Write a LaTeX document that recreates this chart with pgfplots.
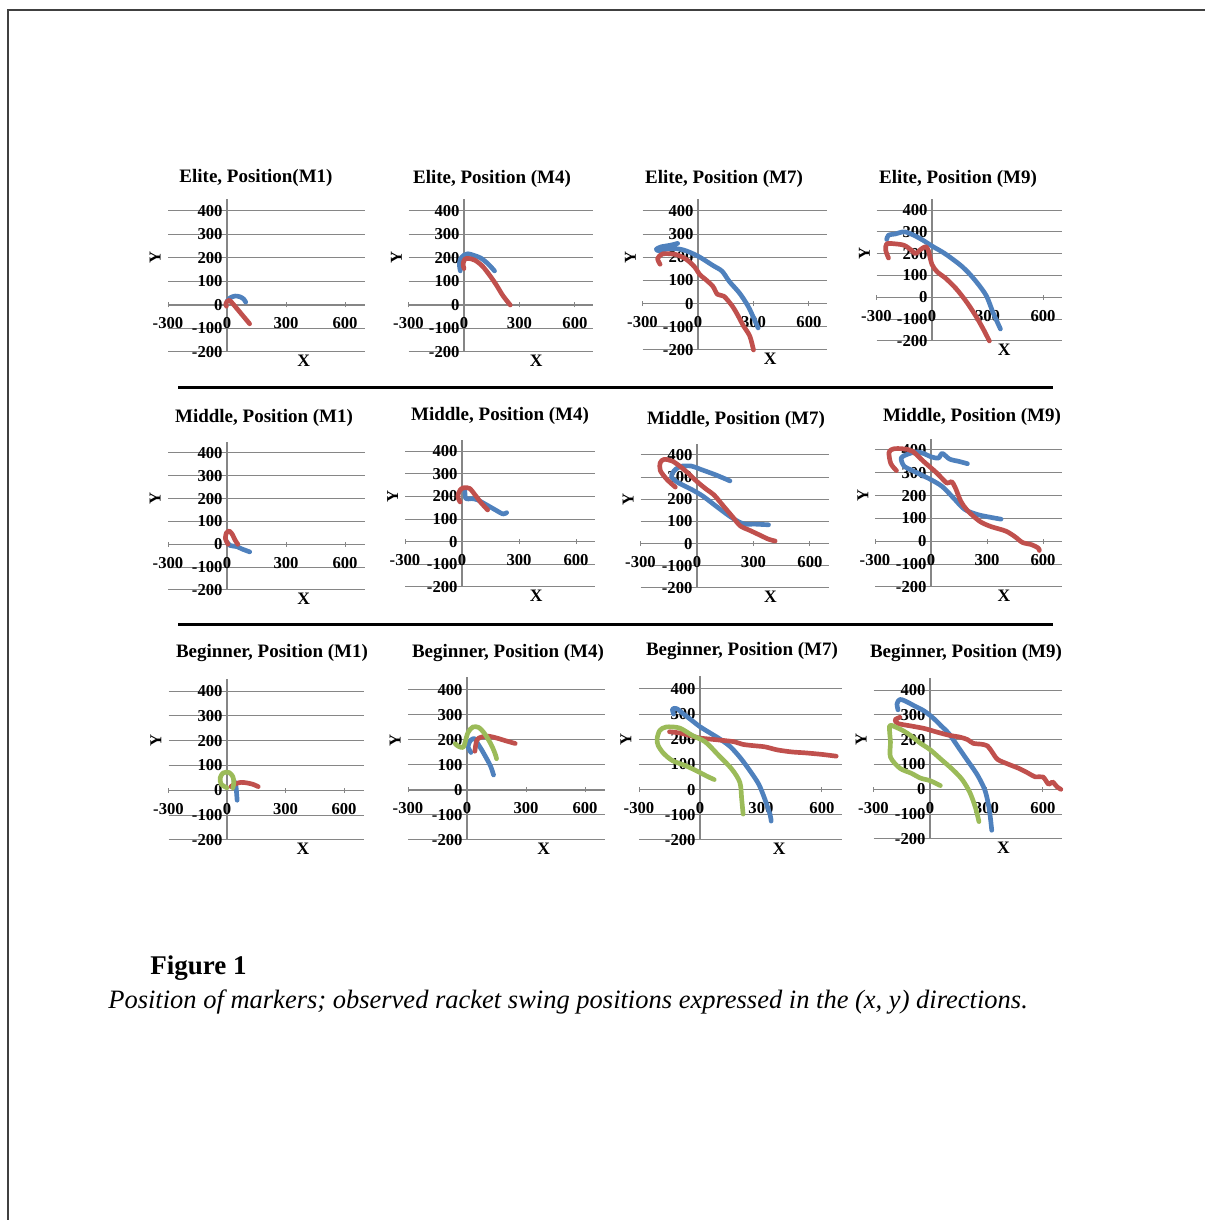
\documentclass[border=0pt]{standalone}
\usepackage{fontspec}
\setmainfont{Liberation Serif}
\usepackage{pgfplots}
\pgfplotsset{compat=1.18}
\definecolor{sblue}{RGB}{79,129,189}
\definecolor{sred}{RGB}{192,80,77}
\definecolor{sgreen}{RGB}{155,187,89}
\definecolor{gridgray}{RGB}{134,134,134}
\pgfplotsset{
 panel/.style={
  scale only axis,
  axis lines=middle,
  axis line style={-, draw=gridgray, line width=0.7pt},
  xmin=-300, xmax=700, ymin=-200, ymax=450,
  xtick={-300,0,300,600},
  ytick={-200,-100,0,100,200,300,400},
  ymajorgrids,
  grid style={draw=gridgray, line width=0.6pt},
  hide obscured x ticks=false, hide obscured y ticks=false,
  tick style={draw=gridgray, line width=0.6pt},
  major tick length=3pt,
  /pgf/number format/assume math mode=true,
  ticklabel style={font=\bfseries\fontsize{10}{10}\selectfont, inner sep=1pt},
  xticklabel style={yshift=-5pt},
  clip=false,
  every axis plot/.append style={line width=2.8pt, line join=round, line cap=round, no markers, smooth, tension=0.5},
 },
}
% #1 left px, #2 bottom px, #3 width px, #4 height px, #5 title, #6 title centre x px, #7 title centre y px, #8 plots
\newcommand\panel[8]{%
 \pgfmathsetlengthmacro\pl{#1*0.6pt}%
 \pgfmathsetlengthmacro\pb{(1220-#2)*0.6pt}%
 \pgfmathsetlengthmacro\pw{#3*0.6pt}%
 \pgfmathsetlengthmacro\ph{#4*0.6pt}%
 \begin{axis}[panel, at={(\pl,\pb)}, anchor=south west, width=\pw, height=\ph]
 #8
 \node[rotate=90, anchor=center, font=\bfseries\fontsize{10}{10}\selectfont, inner sep=0pt] at (axis cs:-365,200) {Y};
 \node[yshift=-5.4pt, anchor=center, font=\bfseries\fontsize{10.5}{10}\selectfont, inner sep=0pt] at (rel axis cs:0.69,0) {X};
 \end{axis}
 \node[anchor=center, font=\bfseries\fontsize{11.4}{12}\selectfont, inner sep=0pt] at (#6,{1220-#7-2.5}) {#5};}
\begin{document}
\begin{tikzpicture}[x=0.6pt,y=0.6pt]
\path[use as bounding box] (0,0) rectangle (1205,1220);
\draw[line width=0.9pt, black!75] (8,0) -- (8,1210) -- (1205,1210);
% ---------- Elite ----------
\panel{168}{352}{196.7}{152.75}{Elite, Position(M1)}{256}{175}{
 \addplot[sblue] coordinates {(0,15) (15,30) (40,38) (65,35) (85,25) (95,12)};
 \addplot[sred] coordinates {(-3,-5) (-6,5) (0,15) (12,20) (30,5) (50,-15) (75,-40) (100,-65) (115,-80)};
}
\panel{408.5}{352}{185}{152.75}{Elite, Position (M4)}{492}{176}{
 \addplot[sblue] coordinates {(-20,145) (-25,170) (-20,195) (0,212) (20,218) (50,212) (90,200) (130,175) (165,145)};
 \addplot[sred] coordinates {(0,155) (-5,175) (5,195) (25,198) (60,190) (100,165) (140,125) (175,85) (210,40) (250,0)};
}
\panel{642.5}{350}{185}{150.6}{Elite, Position (M7)}{724}{176}{
 \addplot[sblue] coordinates {(-110,260) (-150,252) (-200,245) (-225,235) (-210,228) (-150,238) (-80,232) (0,205) (80,165) (130,140) (170,95) (225,45) (270,-10) (300,-60) (325,-105)};
 \addplot[sred] coordinates {(-205,170) (-218,195) (-190,215) (-120,212) (-65,192) (-20,160) (10,125) (40,105) (80,75) (105,40) (140,32) (185,-10) (215,-50) (245,-95) (280,-140) (300,-200)};
}
\panel{876.5}{341}{185}{141.9}{Elite, Position (M9)}{958}{176}{
 \addplot[sblue] coordinates {(-245,265) (-235,285) (-200,290) (-150,300) (-100,285) (-50,262) (0,235) (70,200) (150,150) (200,110) (250,60) (295,5) (330,-70) (370,-145)};
 \addplot[sred] coordinates {(-235,180) (-250,215) (-245,245) (-200,245) (-150,238) (-110,215) (-90,200) (-60,220) (-35,232) (-20,215) (0,150) (30,115) (70,90) (130,40) (190,-25) (240,-90) (280,-150) (310,-200)};
}
% ---------- Middle ----------
\panel{168}{590}{196.7}{148.4}{Middle, Position (M1)}{264}{415}{
 \addplot[sblue] coordinates {(0,10) (15,-5) (50,-10) (75,-20) (115,-33)};
 \addplot[sred] coordinates {(5,0) (-8,25) (-3,50) (12,58) (28,42) (40,20) (55,0)};
}
\panel{405}{587}{190}{147.3}{Middle, Position (M4)}{500}{413}{
 \addplot[sblue] coordinates {(15,225) (20,190) (50,190) (80,185) (130,162) (180,138) (215,122) (235,128)};
 \addplot[sred] coordinates {(-10,175) (-22,200) (-10,228) (10,238) (40,235) (70,205) (100,172) (135,140)};
}
\panel{640.5}{588}{188.3}{144.1}{Middle, Position (M7)}{736}{417}{
 \addplot[sblue] coordinates {(175,283) (100,310) (20,335) (-30,350) (-90,348) (-125,325) (-135,300) (-100,275) (-30,245) (30,215) (100,170) (180,120) (245,90) (310,88) (380,85)};
 \addplot[sred] coordinates {(-115,255) (-160,290) (-195,330) (-195,365) (-175,380) (-130,372) (-70,335) (0,280) (50,245) (90,220) (140,170) (190,120) (230,80) (280,60) (330,40) (380,20) (415,12)};
}
\panel{875}{587}{186.7}{148.4}{Middle, Position (M9)}{972}{414}{
 \addplot[sblue] coordinates {(195,340) (150,350) (100,360) (60,385) (40,365) (0,370) (-40,385) (-80,392) (-130,380) (-160,365) (-145,330) (-100,310) (-50,290) (0,270) (60,240) (120,190) (180,140) (250,117) (320,105) (375,97)};
 \addplot[sred] coordinates {(-185,310) (-215,340) (-225,390) (-200,405) (-150,405) (-100,395) (-40,350) (30,300) (85,255) (110,262) (130,235) (160,175) (195,135) (260,88) (320,65) (400,45) (450,20) (490,-5) (540,-15) (575,-30) (580,-40)};
}
% ---------- Beginner ----------
\panel{168.5}{840}{195}{161.4}{Beginner, Position (M1)}{272}{651}{
 \addplot[sblue] coordinates {(35,40) (45,20) (48,0) (50,-20) (52,-40)};
 \addplot[sred] coordinates {(20,15) (40,25) (70,32) (100,30) (130,25) (160,15)};
 \addplot[sgreen] coordinates {(0,10) (-30,25) (-35,50) (-20,70) (10,72) (30,55) (35,30) (30,10)};
}
\panel{408}{840}{196.7}{162.5}{Beginner, Position (M4)}{508}{651}{
 \addplot[sblue] coordinates {(20,150) (5,175) (20,200) (40,205) (55,185) (75,160) (100,125) (120,95) (135,60)};
 \addplot[sred] coordinates {(40,155) (50,200) (75,212) (110,215) (150,208) (200,196) (245,186)};
 \addplot[sgreen] coordinates {(-60,185) (-45,175) (-20,170) (-10,190) (5,230) (30,252) (60,250) (85,230) (110,200) (130,170) (145,140) (150,125)};
}
\panel{639}{840}{203.3}{163.6}{Beginner, Position (M7)}{742}{649}{
 \addplot[sblue] coordinates {(-130,300) (-135,320) (-115,322) (-80,300) (-40,275) (0,250) (50,225) (100,200) (150,170) (200,125) (250,70) (290,20) (320,-40) (345,-100) (350,-125)};
 \addplot[sred] coordinates {(-150,230) (-100,225) (-50,215) (0,205) (60,200) (120,195) (170,190) (210,180) (260,175) (320,170) (380,158) (450,150) (520,146) (600,140) (670,133)};
 \addplot[sgreen] coordinates {(70,40) (30,55) (-5,70) (-70,95) (-135,115) (-180,145) (-206,176) (-211,202) (-198,235) (-166,249) (-101,245) (-37,215) (27,189) (92,136) (156,82) (196,29) (205,-37) (212,-97)};
}
\panel{873.5}{839}{188.3}{161.4}{Beginner, Position (M9)}{966}{651}{
 \addplot[sblue] coordinates {(-170,320) (-175,345) (-160,362) (-130,355) (-80,335) (-30,315) (20,285) (60,255) (100,225) (150,170) (200,115) (250,60) (290,0) (310,-60) (320,-110) (328,-165)};
 \addplot[sred] coordinates {(-160,290) (-185,280) (-170,265) (-100,255) (-30,245) (30,232) (100,218) (160,210) (200,200) (230,185) (270,182) (305,175) (330,150) (360,120) (420,100) (470,85) (510,70) (560,50) (600,50) (630,20) (650,30) (675,10) (695,0)};
 \addplot[sgreen] coordinates {(55,15) (0,35) (-50,45) (-100,65) (-160,85) (-210,130) (-210,190) (-215,255) (-190,253) (-140,235) (-100,215) (-50,185) (0,160) (60,120) (120,80) (170,40) (210,-10) (240,-70) (260,-130)};
}
% separators and caption
\draw[line width=1.8pt] (178,832) -- (1053,832);
\draw[line width=1.8pt] (178,595) -- (1053,595);
\node[anchor=west, font=\bfseries\fontsize{16.2}{18}\selectfont, inner sep=0pt] at (150,252) {Figure 1};
\node[anchor=west, font=\itshape\fontsize{15.9}{18}\selectfont, inner sep=0pt] at (108,218) {Position of markers; observed racket swing positions expressed in the (x, y) directions.};
\end{tikzpicture}
\end{document}
